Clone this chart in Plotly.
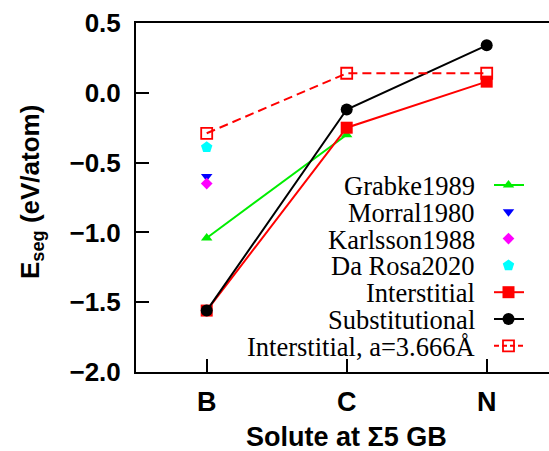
import plotly.graph_objects as go

# ---------------- data ----------------
solutes = ["B", "C", "N"]
grabke1989 = [-1.04, -0.30]          # B, C
morral1980 = [-0.60]                 # B
karlsson1988 = [-0.65]               # B
darosa2020 = [-0.39]                 # B
interstitial = [-1.56, -0.25, 0.08]  # B, C, N
substitutional = [-1.56, -0.12, 0.34]
interstitial_a3666 = [-0.29, 0.14, 0.14]
y_ticks = [0.5, 0.0, -0.5, -1.0, -1.5, -2.0]
y_ticktext = ["0.5", "0.0", "\u22120.5", "\u22121.0", "\u22121.5", "\u22122.0"]

# ---------------- layout constants (pixels) ----------------
W, H = 549, 451
L, R, T, B = 136, 0, 23, 79
PX0, PX1 = L, W - R
PY0, PY1 = H - B, T
PW, PH = PX1 - PX0, PY0 - PY1
Y_RANGE = [-2.0, 0.5]
X_UNIT_PX = 140.0
X_RANGE = [-0.505, -0.505 + PW / X_UNIT_PX]

SERIF = "Liberation Serif"
SANS = "Liberation Sans"

fig = go.Figure()

def series(x, y, name, color, symbol, size, line=True, dash=None, open_=False):
    fig.add_trace(go.Scatter(
        x=x, y=y, name=name,
        mode="lines+markers" if line else "markers",
        line=dict(color=color, width=2, dash=dash) if line else None,
        marker=dict(symbol=symbol, size=size, color=color,
                    line=dict(color=color, width=1.8 if open_ else 0)),
        showlegend=False, cliponaxis=False,
    ))

series(solutes[:2], grabke1989, "Grabke1989", "#00ee00", "triangle-up", 10)
series(solutes[:1], morral1980, "Morral1980", "#0000ff", "triangle-down", 10, line=False)
series(solutes[:1], karlsson1988, "Karlsson1988", "#ff00ff", "diamond", 9, line=False)
series(solutes[:1], darosa2020, "Da Rosa2020", "#00ffff", "pentagon", 12, line=False)
series(solutes, interstitial, "Interstitial", "#ff0000", "square", 12)
series(solutes, substitutional, "Substitutional", "#000000", "circle", 12)
series(solutes, interstitial_a3666, "Interstitial, a=3.666\u00c5", "#ff0000", "square-open", 11,
       dash="9px,5px", open_=True)

# ---------------- mirrored tick stubs (top and right) as line traces ----------------
top_len = 13 * (Y_RANGE[1] - Y_RANGE[0]) / PH
tx, ty = [], []
for i, _ in enumerate(solutes):
    tx += [i, i, None]
    ty += [Y_RANGE[1], Y_RANGE[1] - top_len, None]
fig.add_trace(go.Scatter(x=tx, y=ty, mode="lines", line=dict(color="black", width=2),
                         showlegend=False, hoverinfo="skip"))
right_len = 6 / X_UNIT_PX
rx, ry = [], []
for v in y_ticks:
    rx += [X_RANGE[1], X_RANGE[1] - right_len, None]
    ry += [v, v, None]
fig.add_trace(go.Scatter(x=rx, y=ry, mode="lines", line=dict(color="black", width=2),
                         showlegend=False, hoverinfo="skip"))

# ---------------- manual legend (symbol to the right of text) ----------------
legend_entries = [
    ("Grabke1989", "#00ee00", "triangle-up", 10, True, False),
    ("Morral1980", "#0000ff", "triangle-down", 10, False, False),
    ("Karlsson1988", "#ff00ff", "diamond", 9, False, False),
    ("Da Rosa2020", "#00ffff", "pentagon", 12, False, False),
    ("Interstitial", "#ff0000", "square", 12, True, False),
    ("Substitutional", "#000000", "circle", 12, True, False),
    ("Interstitial, a=3.666\u00c5", "#ff0000", "square-open", 11, True, True),
]
LEG_TOP, LEG_STEP = 185, 26.8
TEXT_RIGHT = 477
SAMPLE_X0, SAMPLE_XM, SAMPLE_X1 = 494, 508.5, 524

annotations = []
for i, (name, color, symbol, size, has_line, is_open) in enumerate(legend_entries):
    yy = LEG_TOP + i * LEG_STEP
    if has_line:
        fig.add_trace(go.Scatter(x=[SAMPLE_X0, SAMPLE_X1], y=[yy, yy], mode="lines",
                                 line=dict(color=color, width=2,
                                           dash="5px,3px" if is_open else None),
                                 xaxis="x2", yaxis="y2", showlegend=False, hoverinfo="skip"))
    fig.add_trace(go.Scatter(x=[SAMPLE_XM], y=[yy], mode="markers",
                             marker=dict(symbol=symbol, size=size, color=color,
                                         line=dict(color=color, width=1.8 if is_open else 0)),
                             xaxis="x2", yaxis="y2", showlegend=False, hoverinfo="skip"))
    annotations.append(dict(text=name, x=TEXT_RIGHT, y=yy + 1, xref="x2", yref="y2",
                            xanchor="right", yanchor="middle", showarrow=False,
                            font=dict(family=SERIF, size=26.5, color="black")))

# axis titles
annotations.append(dict(text="Solute at \u03a35 GB", x=1, xref="x", y=(PY0 - 437) / PH,
                        yref="paper", xanchor="center", yanchor="middle", showarrow=False,
                        font=dict(family=SANS, size=27, color="black", weight="bold")))
annotations.append(dict(text="E<sub>seg</sub> (eV/atom)", x=(31 - PX0) / PW, xref="paper",
                        y=(PY0 - 192) / PH, yref="paper", textangle=-90,
                        xanchor="center", yanchor="middle", showarrow=False,
                        font=dict(family=SANS, size=26, color="black", weight="bold")))

fig.update_layout(
    width=W, height=H, margin=dict(l=L, r=R, t=T, b=B, pad=0),
    paper_bgcolor="white", plot_bgcolor="white",
    showlegend=False,
    annotations=annotations,
    xaxis=dict(type="category", categoryorder="array", categoryarray=solutes,
               range=X_RANGE,
               showline=True, linecolor="black", linewidth=2, mirror=True,
               ticks="inside", ticklen=13, tickwidth=2, tickcolor="black",
               showgrid=False, zeroline=False, ticklabelstandoff=5,
               tickfont=dict(family=SANS, size=27, color="black", weight="bold")),
    yaxis=dict(range=Y_RANGE, tickvals=y_ticks, ticktext=y_ticktext,
               showline=True, linecolor="black", linewidth=2, mirror=False,
               ticks="inside", ticklen=13, tickwidth=2, tickcolor="black",
               showgrid=False, zeroline=False, ticklabelstandoff=8,
               tickfont=dict(family=SANS, size=26, color="black", weight="bold")),
    xaxis2=dict(range=[PX0, PX1], overlaying="x", visible=False, anchor="y2"),
    yaxis2=dict(range=[PY0, PY1], overlaying="y", visible=False, anchor="x2"),
)

fig.write_html("out.html")
